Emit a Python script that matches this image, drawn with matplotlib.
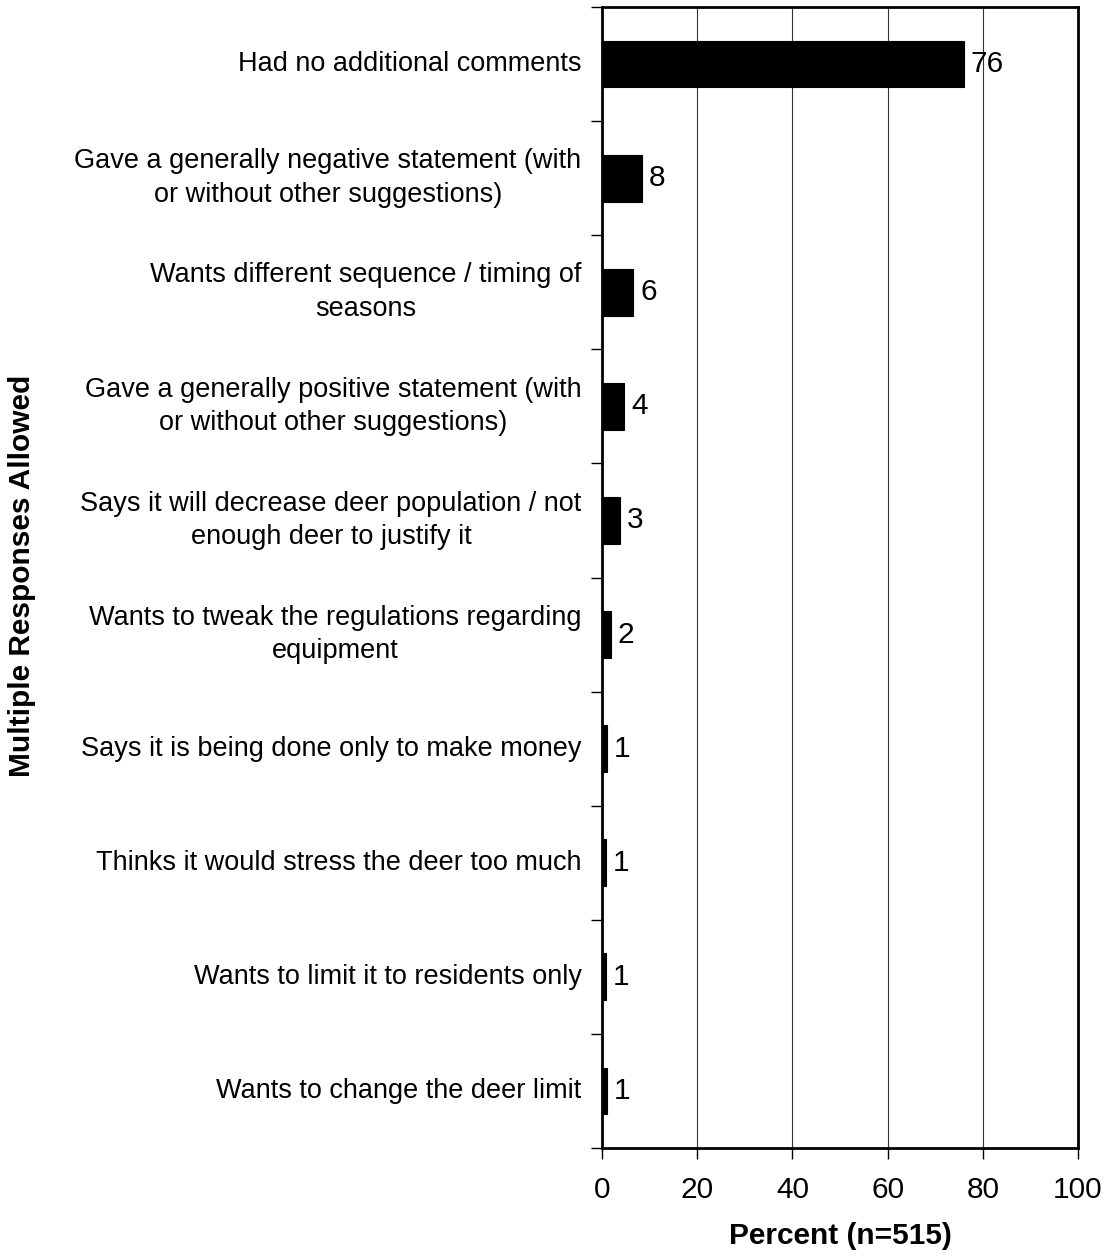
import matplotlib
matplotlib.use('Agg')
import numpy as np
import matplotlib.pyplot as plt

plt.rcParams['font.family'] = ['Liberation Sans', 'DejaVu Sans']

categories = [
    'Had no additional comments',
    'Gave a generally negative statement (with\nor without other suggestions)',
    'Wants different sequence / timing of\nseasons',
    'Gave a generally positive statement (with\nor without other suggestions)',
    'Says it will decrease deer population / not\nenough deer to justify it',
    'Wants to tweak the regulations regarding\nequipment',
    'Says it is being done only to make money',
    'Thinks it would stress the deer too much',
    'Wants to limit it to residents only',
    'Wants to change the deer limit',
]
values = [76.0, 8.4, 6.6, 4.7, 3.7, 1.8, 1.0, 0.8, 0.8, 1.0]
value_labels = ['76', '8', '6', '4', '3', '2', '1', '1', '1', '1']
xticks = [0, 20, 40, 60, 80, 100]

fig = plt.figure(figsize=(11.07, 12.59), dpi=100)
ax = fig.add_axes([0.5438, 0.0882, 0.43, 0.9062])

n = len(categories)
y = np.arange(n)
ax.barh(y, values, height=0.41, color='black', edgecolor='black', linewidth=0.8, zorder=3)

for yi, v, lab in zip(y, values, value_labels):
    ax.text(v + 1.5, yi, lab, va='center', ha='left', fontsize=21.5, zorder=4)

ax.set_xlim(0, 100)
ax.set_ylim(n - 0.5, -0.5)
ax.set_xticks(xticks)
ax.set_xticklabels([str(t) for t in xticks], fontsize=21.5)
ax.tick_params(axis='x', direction='out', length=8, width=1, pad=12)
ax.xaxis.grid(True, color='#333333', linewidth=0.8, zorder=0)

# category boundary ticks on the y axis
ax.set_yticks(np.arange(n + 1) - 0.5)
ax.set_yticklabels([])
ax.tick_params(axis='y', direction='out', length=8, width=1)
for yi, cat in zip(y, categories):
    ax.text(-4.3, yi, cat, ha='right', va='center', multialignment='center',
            fontsize=19.5, transform=ax.transData, clip_on=False, linespacing=1.38)

for s in ax.spines.values():
    s.set_linewidth(2)

fig.text(0.7588, 0.018, 'Percent (n=515)', ha='center', va='center', fontsize=21.5, fontweight='bold')
fig.text(0.02, 0.5425, 'Multiple Responses Allowed', ha='center', va='center', rotation=90,
         fontsize=21.5, fontweight='bold')

fig.savefig('out.png', dpi=100)
